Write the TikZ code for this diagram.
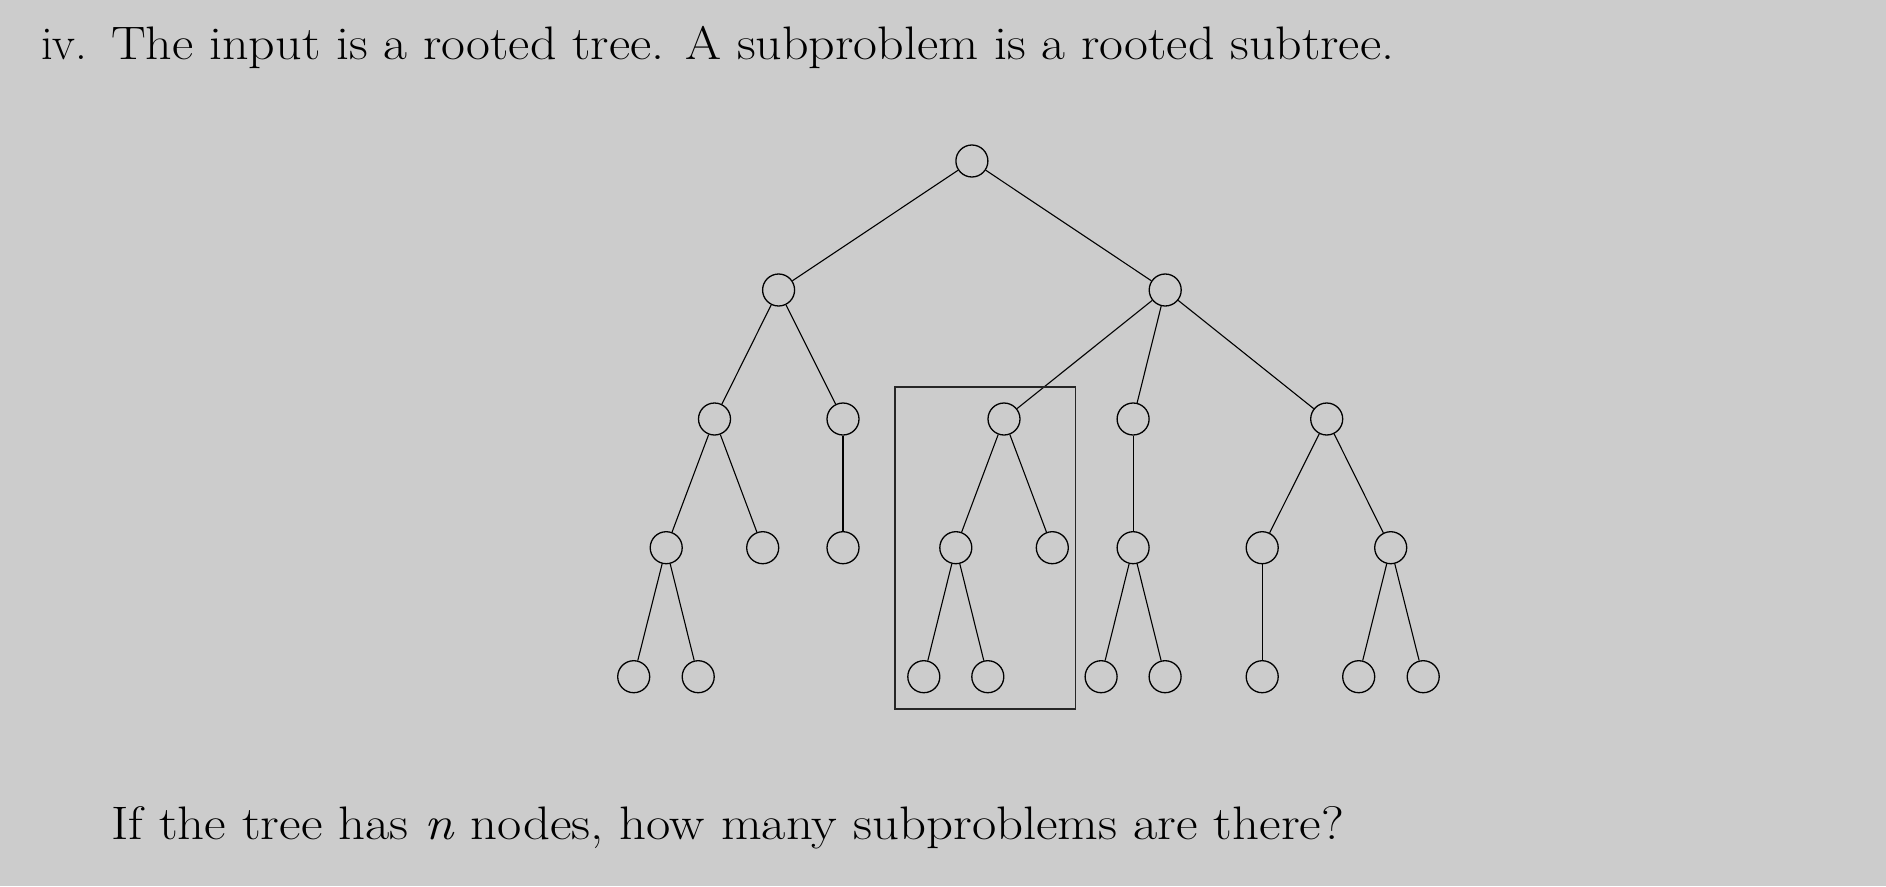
\documentclass[tikz,border=0pt]{standalone}
\usepackage{fontspec}
\usepackage{graphicx}
\definecolor{bg}{HTML}{CCCCCC}
\begin{document}
\begin{tikzpicture}[x=1pt,y=-1pt,
  tn/.style={circle,draw,line width=1.3pt,minimum size=32pt,inner sep=0pt},
  ed/.style={line width=1.1pt},
  txt/.style={anchor=base west,inner sep=0pt,font=\fontsize{47}{52}\selectfont}]
\fill[bg] (0,0) rectangle (1886,886);
\useasboundingbox (0,0) rectangle (1886,886);
\node[txt] (lab) at (41,59) {iv.};
\node[txt] (t1) at (111,59) {\resizebox{1283pt}{\height}{The input is a rooted tree. A subproblem is a rooted subtree.}};
\node[txt] (t2) at (111,839) {\resizebox{1233pt}{\height}{If the tree has \textit{n} nodes, how many subproblems are there?}};
% nodes
\node[tn] (r) at (971.9,161) {};
\node[tn] (a) at (778.6,290) {};
\node[tn] (b) at (1165.2,290) {};
\node[tn] (a1) at (714.5,419) {};
\node[tn] (a2) at (843,419) {};
\node[tn] (b1) at (1004,419) {};
\node[tn] (b2) at (1133.1,419) {};
\node[tn] (b3) at (1326.7,419) {};
\node[tn] (a11) at (666.2,547.7) {};
\node[tn] (a12) at (762.7,547.7) {};
\node[tn] (a21) at (843,547.7) {};
\node[tn] (b11) at (955.8,547.7) {};
\node[tn] (b12) at (1052.3,547.7) {};
\node[tn] (b21) at (1133.1,547.7) {};
\node[tn] (b31) at (1262.2,547.7) {};
\node[tn] (b32) at (1390.7,547.7) {};
\node[tn] (a111) at (633.7,676.7) {};
\node[tn] (a112) at (698.2,676.7) {};
\node[tn] (b111) at (923.8,676.7) {};
\node[tn] (b112) at (987.8,676.7) {};
\node[tn] (b211) at (1101.1,676.7) {};
\node[tn] (b212) at (1165.1,676.7) {};
\node[tn] (b311) at (1262.2,676.7) {};
\node[tn] (b321) at (1358.7,676.7) {};
\node[tn] (b322) at (1423.2,676.7) {};
% edges
\foreach \p/\c in {r/a,r/b,a/a1,a/a2,b/b1,b/b2,b/b3,a1/a11,a1/a12,a2/a21,b1/b11,b1/b12,b2/b21,b3/b31,b3/b32,a11/a111,a11/a112,b11/b111,b11/b112,b21/b211,b21/b212,b31/b311,b32/b321,b32/b322}
  \draw[ed] (\p) -- (\c);
% subtree box
\node[draw=black!85,line width=1.6pt,inner sep=0pt,minimum width=180.1pt,minimum height=322.3pt] (box) at (985.25,547.85) {};
\end{tikzpicture}
\end{document}
